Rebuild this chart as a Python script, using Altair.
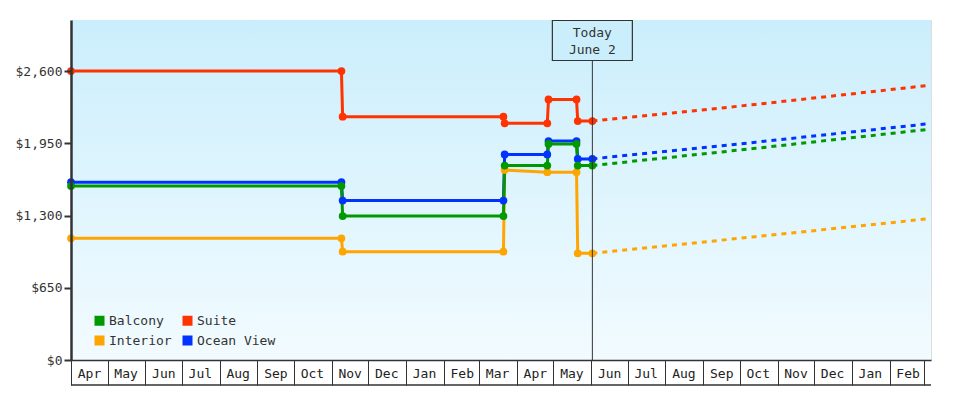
import altair as alt
import pandas as pd

# ---------------- data ----------------
series_names = ["Balcony", "Interior", "Suite", "Ocean View"]
series_colors = ["#009900", "#ffa500", "#ff3300", "#0033ff"]

hist_dates = ["2023-04-01", "2023-11-09", "2023-11-10", "2024-03-21", "2024-03-22",
              "2024-04-26", "2024-04-27", "2024-05-20", "2024-05-21", "2024-06-02"]
hist_dates_interior = ["2023-04-01", "2023-11-09", "2023-11-10", "2024-03-21", "2024-03-22",
                       "2024-04-26", "2024-05-20", "2024-05-21", "2024-06-02"]

balcony_hist = [1565, 1565, 1295, 1295, 1750, 1750, 1945, 1945, 1750, 1750]
suite_hist = [2600, 2600, 2190, 2190, 2130, 2130, 2345, 2345, 2150, 2150]
interior_hist = [1095, 1095, 975, 975, 1710, 1690, 1690, 960, 960]
ocean_hist = [1600, 1600, 1435, 1435, 1850, 1850, 1970, 1970, 1810, 1810]

forecast_dates = ["2024-06-02", "2024-10-14", "2025-03-04"]
balcony_fc = [1750, 1905, 2075]
suite_fc = [2150, 2300, 2470]
interior_fc = [960, 1110, 1270]
ocean_fc = [1810, 1960, 2125]

y_ticks = [0, 650, 1300, 1950, 2600]
today_label = ["Today", "June 2"]

# ---------------- tables ----------------
hist_rows = []
for name, dates, vals in [("Interior", hist_dates_interior, interior_hist),
                          ("Ocean View", hist_dates, ocean_hist),
                          ("Suite", hist_dates, suite_hist),
                          ("Balcony", hist_dates, balcony_hist)]:
    for d, v in zip(dates, vals):
        hist_rows.append({"series": name, "date": d, "price": v})
hist_df = pd.DataFrame(hist_rows)

fc_rows = []
for name, vals in [("Interior", interior_fc), ("Ocean View", ocean_fc),
                   ("Suite", suite_fc), ("Balcony", balcony_fc)]:
    for d, v in zip(forecast_dates, vals):
        fc_rows.append({"series": name, "date": d, "price": v})
fc_df = pd.DataFrame(fc_rows)

one = pd.DataFrame({"k": [0]})

W, H = 860, 340
FONT = "DejaVu Sans Mono"
INK = "#333333"
TOP_BG = "#cbeefc"
BOT_BG = "#f2fbff"

today = alt.DateTime(year=2024, month=6, date=2, utc=True)

x_scale = alt.Scale(type="utc",
                    domain=[alt.DateTime(year=2023, month=4, date=1, utc=True),
                            alt.DateTime(year=2025, month=3, date=7, utc=True)])
y_scale = alt.Scale(domain=[0, 3060], nice=False)

x_axis = alt.Axis(tickCount={"interval": "month", "step": 1},
                  labelExpr="datum.value >= utc(2025, 2, 1) ? '' : utcFormat(datum.value, '%b')",
                  tickSize=25, tickColor=INK, tickWidth=1,
                  domainColor=INK, domainWidth=1.5,
                  labelAlign="center", labelBaseline="middle",
                  labelPadding=-12, labelOffset=18, labelFlush=False,
                  labelOverlap=False, grid=False, title=None,
                  labelFont=FONT, labelFontSize=13, labelColor="#222222", zindex=1)
y_axis = alt.Axis(values=y_ticks, format="$,.0f", grid=False,
                  tickSize=7, tickWidth=2, tickColor=INK,
                  domainColor=INK, domainWidth=2.5,
                  labelFont=FONT, labelFontSize=13, labelColor=INK,
                  labelPadding=2, title=None, zindex=1)

color = alt.Color("series:N",
                  scale=alt.Scale(domain=series_names, range=series_colors),
                  legend=alt.Legend(title=None, orient="none", legendX=22, legendY=294,
                                    columns=2, symbolType="square", symbolSize=100,
                                    symbolStrokeWidth=0, labelFont=FONT, labelFontSize=13,
                                    labelColor=INK, labelOffset=3, columnPadding=9,
                                    rowPadding=6, padding=0))

bg = alt.Chart(one).mark_rect(
    color=alt.LinearGradient(gradient="linear",
                             stops=[alt.GradientStop(color=TOP_BG, offset=0),
                                    alt.GradientStop(color=BOT_BG, offset=1)],
                             x1=0, x2=0, y1=0, y2=1)
).encode(x=alt.value(0), x2=alt.value(W), y=alt.value(0), y2=alt.value(H))

hist_line = alt.Chart(hist_df).mark_line(strokeWidth=3).encode(
    x=alt.X("date:T", scale=x_scale, axis=x_axis),
    y=alt.Y("price:Q", scale=y_scale, axis=y_axis),
    color=color,
)

fc_line = alt.Chart(fc_df).mark_line(strokeWidth=3, strokeDash=[5, 5]).encode(
    x="date:T", y="price:Q", color=color,
)

pts = alt.Chart(hist_df).mark_circle(size=60, opacity=1).encode(
    x="date:T", y="price:Q", color=color,
)

today_rule = alt.Chart(one).mark_rule(color=INK, strokeWidth=1).encode(
    x=alt.datum(today, type="temporal"), y=alt.value(40), y2=alt.value(H))

today_box = alt.Chart(one).mark_rect(fill=TOP_BG, stroke=INK, strokeWidth=1.2,
                                     xOffset=-40, x2Offset=40).encode(
    x=alt.datum(today, type="temporal"), x2=alt.datum(today, type="temporal"),
    y=alt.value(0.5), y2=alt.value(40.5))

today_t1 = alt.Chart(one).mark_text(text=today_label[0], font=FONT, fontSize=13,
                                    color=INK, baseline="middle").encode(
    x=alt.datum(today, type="temporal"), y=alt.value(13))
today_t2 = alt.Chart(one).mark_text(text=today_label[1], font=FONT, fontSize=13,
                                    color=INK, baseline="middle").encode(
    x=alt.datum(today, type="temporal"), y=alt.value(30))

bottom_line = alt.Chart(one).mark_rule(color=INK, strokeWidth=1.5).encode(
    x=alt.value(0), x2=alt.value(W), y=alt.value(H + 25))

chart = alt.layer(
    bg, hist_line, fc_line, pts, today_rule, today_box, today_t1, today_t2, bottom_line
).properties(
    width=W, height=H,
    autosize=alt.AutoSizeParams(type="none"),
    padding={"left": 63, "top": 12, "right": 20, "bottom": 30},
).configure_view(strokeWidth=0).configure(font=FONT, background="white")

chart.save("out.html", embed_options={"renderer": "svg", "actions": False})
